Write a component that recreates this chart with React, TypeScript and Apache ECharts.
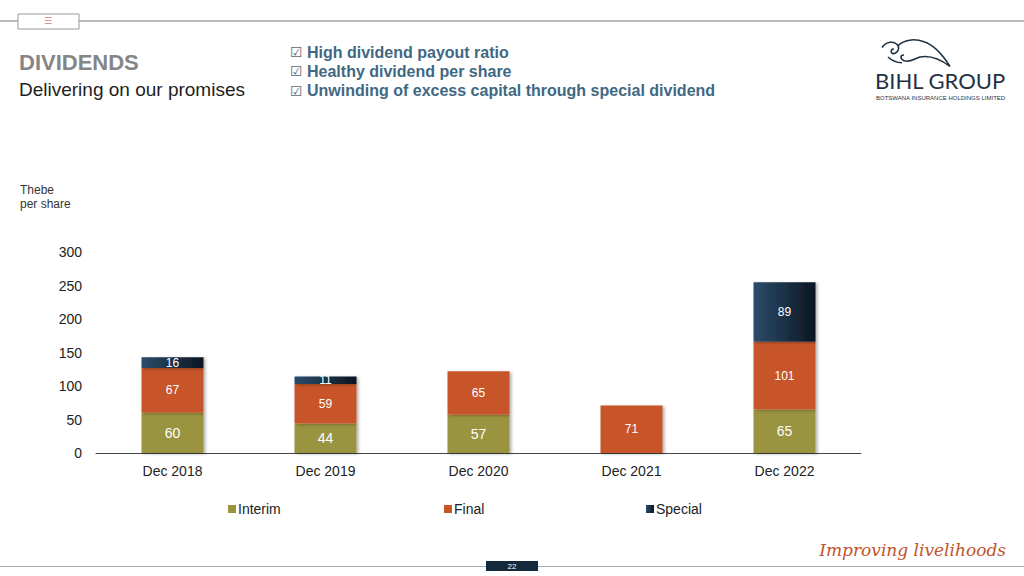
import React, { useEffect, useRef } from "react";
import * as echarts from "echarts";

const categories = ["Dec 2018", "Dec 2019", "Dec 2020", "Dec 2021", "Dec 2022"];
const interim = [60, 44, 57, null, 65];
const finalDiv = [67, 59, 65, 71, 101];
const special = [16, 11, null, null, 89];
const yTicks = { min: 0, max: 300, interval: 50 };
const bullets = [
  "High dividend payout ratio",
  "Healthy dividend per share",
  "Unwinding of excess capital through special dividend",
];

const FONT = "'Liberation Sans', Arial, Helvetica, sans-serif";

const birdPath =
  "M2 10 C6 4 14 2 18 8 C20 12 16 18 12 16 C10 14 12 11 14 12 M18 8 C24 2 34 0 44 4 C56 8 64 20 70 30 C60 22 50 18 40 20 C34 22 30 26 24 24 M24 24 C20 22 20 18 24 18 M8 20 C12 24 16 26 22 26";

export default function App() {
  const ref = useRef<HTMLDivElement>(null);
  useEffect(() => {
    if (!ref.current) return;
    try {
      echarts.graphic.registerShape("bird", echarts.graphic.extendPath(birdPath, {}));
    } catch (e) {}
    const chart = echarts.init(ref.current, null, { renderer: "svg" });
    const shadow = {
      shadowBlur: 3,
      shadowOffsetX: 2,
      shadowOffsetY: 1,
      shadowColor: "rgba(0,0,0,0.3)",
    };
    const labelBase = {
      show: true,
      position: "inside" as const,
      color: "#ffffff",
      fontFamily: FONT,
    };
    const legendBase = {
      top: 497,
      itemWidth: 8,
      itemHeight: 8,
      icon: "rect",
      textStyle: { fontSize: 14, color: "#222", fontFamily: FONT, padding: [0, 0, 0, -3] },
    };
    chart.setOption({
      animation: false,
      backgroundColor: "#ffffff",
      textStyle: { fontFamily: FONT },
      grid: { left: 96, right: 163, top: 252, bottom: 123 },
      legend: [
        { ...legendBase, data: ["Interim"], left: 223 },
        { ...legendBase, data: ["Final"], left: 439 },
        { ...legendBase, data: ["Special"], left: 641 },
      ],
      xAxis: {
        type: "category",
        data: categories,
        axisLine: { lineStyle: { color: "#444", width: 1 } },
        axisTick: { show: false },
        axisLabel: { fontSize: 14, color: "#222", margin: 11, fontFamily: FONT },
      },
      yAxis: {
        type: "value",
        min: yTicks.min,
        max: yTicks.max,
        interval: yTicks.interval,
        axisLine: { show: false },
        axisTick: { show: false },
        splitLine: { show: false },
        axisLabel: { fontSize: 14, color: "#222", margin: 14, fontFamily: FONT },
      },
      series: [
        {
          name: "Interim",
          type: "bar",
          stack: "d",
          barWidth: 62,
          data: interim,
          itemStyle: { color: "#9a9440", ...shadow },
          label: { ...labelBase, fontSize: 14 },
        },
        {
          name: "Final",
          type: "bar",
          stack: "d",
          barWidth: 62,
          data: finalDiv,
          itemStyle: { color: "#c8552a", ...shadow },
          label: { ...labelBase, fontSize: 12 },
        },
        {
          name: "Special",
          type: "bar",
          stack: "d",
          barWidth: 62,
          data: special,
          itemStyle: {
            color: new echarts.graphic.LinearGradient(0, 0, 1, 0, [
              { offset: 0, color: "#2c4c6c" },
              { offset: 1, color: "#0b1620" },
            ]),
            ...shadow,
          },
          label: { ...labelBase, fontSize: 12 },
        },
      ],
      graphic: [
        { type: "line", shape: { x1: 0, y1: 21, x2: 1024, y2: 21 }, style: { stroke: "#777", lineWidth: 1 } },
        { type: "rect", shape: { x: 18, y: 14, width: 61, height: 15 }, style: { fill: "#fff", stroke: "#999", lineWidth: 1 } },
        { type: "text", x: 48, y: 21, style: { text: "☰", fill: "#d9777f", fontSize: 9, align: "center", verticalAlign: "middle", fontFamily: "DejaVu Sans" } },
        { type: "text", x: 19, y: 62, style: { text: "DIVIDENDS", fill: "#858585", fontSize: 22, fontWeight: "bold", verticalAlign: "middle", fontFamily: FONT } },
        { type: "text", x: 19, y: 89, style: { text: "Delivering on our promises", fill: "#1e1e1e", fontSize: 19, verticalAlign: "middle", fontFamily: FONT } },
        ...bullets.map((b, i) => ({
          type: "text",
          x: 290,
          y: 52 + i * 19.3,
          style: { text: "☑", fill: "#5a6a74", fontSize: 14, verticalAlign: "middle", fontFamily: "'DejaVu Sans', sans-serif" },
        })),
        ...bullets.map((b, i) => ({
          type: "text",
          x: 307,
          y: 52 + i * 19.3,
          style: { text: b, fill: "#3f6883", fontSize: 16, fontWeight: "bold", verticalAlign: "middle", fontFamily: FONT },
        })),
        { type: "bird", x: 880, y: 38, scaleX: 1.0, scaleY: 0.95, style: { fill: "none", stroke: "#1f3345", lineWidth: 1.6 } },
        { type: "text", x: 875, y: 80, style: { text: "BIHL GROUP", fill: "#1f3345", fontSize: 22, verticalAlign: "middle", fontFamily: "'Lato', 'Open Sans', sans-serif" } },
        { type: "text", x: 876, y: 98, style: { text: "BOTSWANA INSURANCE HOLDINGS LIMITED", fill: "#1f3345", fontSize: 6, verticalAlign: "middle", fontFamily: FONT } },
        { type: "text", x: 20, y: 197, style: { text: "Thebe\nper share", fill: "#333", fontSize: 12, lineHeight: 14, verticalAlign: "middle", fontFamily: FONT } },
        { type: "line", shape: { x1: 0, y1: 566.5, x2: 1024, y2: 566.5 }, style: { stroke: "#aaa", lineWidth: 1 } },
        { type: "rect", shape: { x: 486, y: 561, width: 52, height: 10 }, style: { fill: "#14293a" } },
        { type: "text", x: 512, y: 566, style: { text: "22", fill: "#fff", fontSize: 8, align: "center", verticalAlign: "middle", fontFamily: FONT } },
        { type: "text", x: 1006, y: 550, style: { text: "Improving livelihoods", fill: "#c0542c", fontSize: 17, fontStyle: "italic", align: "right", verticalAlign: "middle", fontFamily: "'DejaVu Serif', serif" } },
      ],
    });
    return () => chart.dispose();
  }, []);
  return <div ref={ref} style={{ position: "fixed", left: 0, top: 0, width: 1024, height: 576 }} />;
}
